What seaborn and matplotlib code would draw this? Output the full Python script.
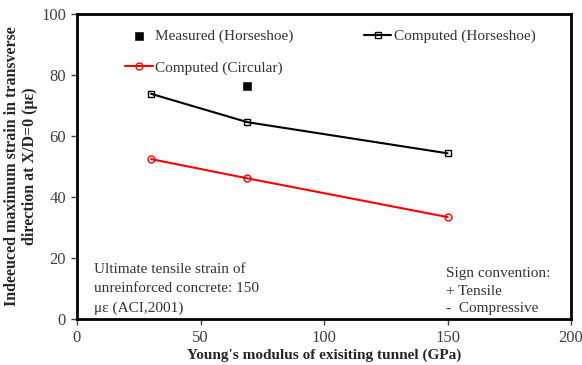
import matplotlib
matplotlib.use("Agg")
import matplotlib.pyplot as plt
import seaborn as sns
import pandas as pd

modulus = [30, 69, 150]
computed_horseshoe = [73.8, 64.5, 54.3]
computed_circular = [52.4, 46.1, 33.4]
measured_x = [69]
measured_horseshoe = [76.5]

sns.set_theme(style="white")
plt.rcParams['font.family'] = ['Liberation Serif', 'DejaVu Serif']
plt.rcParams['mathtext.fontset'] = 'stix'

fig = plt.figure(figsize=(5.82, 3.65), dpi=100)
ax = fig.add_axes([0.1323, 0.126, 0.849, 0.836])

df_h = pd.DataFrame({"x": modulus, "y": computed_horseshoe})
df_c = pd.DataFrame({"x": modulus, "y": computed_circular})
df_m = pd.DataFrame({"x": measured_x, "y": measured_horseshoe})

sns.scatterplot(data=df_m, x="x", y="y", ax=ax, marker="s", s=28, color="black",
                edgecolor="black", label="Measured (Horseshoe)", zorder=5)
sns.lineplot(data=df_c, x="x", y="y", ax=ax, color="#ff0000", linewidth=1.5,
             marker="o", markersize=5, markerfacecolor="none", markeredgecolor="#ff0000",
             markeredgewidth=1.0, label="Computed (Circular)")
sns.lineplot(data=df_h, x="x", y="y", ax=ax, color="black", linewidth=1.5,
             marker="s", markersize=5, markerfacecolor="none", markeredgecolor="black",
             markeredgewidth=1.0, label="Computed (Horseshoe)")

ax.set_xlim(0, 200)
ax.set_ylim(0, 100)
ax.set_xticks([0, 50, 100, 150, 200])
ax.set_yticks([0, 20, 40, 60, 80, 100])
ax.tick_params(axis="both", which="both", direction="out", length=4, width=1,
               labelsize=12, colors="#404040", left=True, bottom=True, pad=4)
for sp in ax.spines.values():
    sp.set_color("black")
    sp.set_linewidth(2)

ax.set_xlabel("Young's modulus of exisiting tunnel (GPa)", fontsize=11, fontweight="bold",
              labelpad=1.5)
ax.set_ylabel("Indeeuced maximum strain in transverse\ndirection at X/D=0 (\u03bc\u03b5)",
              fontsize=11.5, fontweight="bold", labelpad=2.5, linespacing=1.15)

leg = ax.legend(ncol=2, loc="upper left", bbox_to_anchor=(0.066, 1.0), frameon=False,
                fontsize=11, handlelength=1.8, handletextpad=0.15, columnspacing=4.6,
                labelspacing=1.15, labelcolor="#333333", borderaxespad=0.63)

ax.text(0.035, 0.185, "Ultimate tensile strain of\nunreinforced concrete: 150\n\u03bc\u03b5 (ACI,2001)",
        transform=ax.transAxes, fontsize=11, color="#333333", va="top", ha="left",
        linespacing=1.65)
ax.text(0.746, 0.169, "Sign convention:\n+ Tensile\n-  Compressive",
        transform=ax.transAxes, fontsize=11, color="#333333", va="top", ha="left",
        linespacing=1.45)

fig.savefig("out.png", dpi=100)
